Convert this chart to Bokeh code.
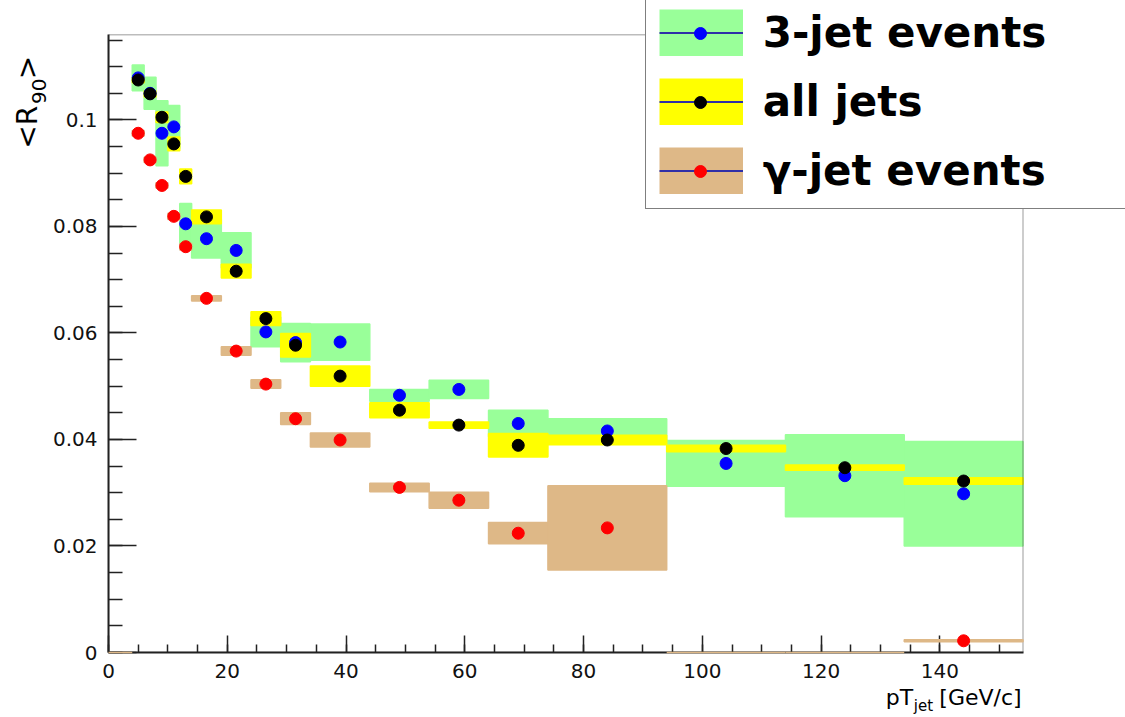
from bokeh.plotting import figure
from bokeh.models import (Range1d, FixedTicker, PrintfTickFormatter, Legend,
                          LegendItem, LinearAxis, BoxAnnotation)
from bokeh.embed import file_html
from bokeh.resources import INLINE

# ---------------- data ----------------
bin_lo = [4, 6, 8, 10, 12, 14, 19, 24, 29, 34, 44, 54, 64, 74, 94, 114, 134]
bin_hi = [6, 8, 10, 12, 14, 19, 24, 29, 34, 44, 54, 64, 74, 94, 114, 134, 154]

three_val = [0.1079, 0.1050, 0.0975, 0.0987, 0.0805, 0.0777, 0.0755, 0.0602, 0.0582,
             0.0583, 0.0483, 0.0494, 0.0430, 0.0416, 0.0355, 0.0332, 0.0298]
three_err = [0.0024, 0.0030, 0.0061, 0.0040, 0.0038, 0.0036, 0.0033, 0.0028, 0.0036,
             0.0034, 0.0011, 0.0017, 0.0025, 0.0023, 0.0043, 0.0077, 0.0098]

all_val = [0.1075, 0.1049, 0.1005, 0.0955, 0.0894, 0.0818, 0.0716, 0.0627, 0.0577,
           0.0519, 0.0455, 0.0427, 0.0389, 0.0399, 0.0383, 0.0347, 0.0322]
all_err = [0.0005, 0.0006, 0.0010, 0.0013, 0.0014, 0.0013, 0.0013, 0.0013, 0.0022,
           0.0019, 0.0014, 0.0006, 0.0022, 0.0009, 0.0006, 0.0005, 0.0006]

g_lo = [0, 4, 6, 8, 10, 12, 14, 19, 24, 29, 34, 44, 54, 64, 74, 94, 114, 134]
g_hi = [4, 6, 8, 10, 12, 14, 19, 24, 29, 34, 44, 54, 64, 74, 94, 114, 134, 154]
g_val = [0.0, 0.0975, 0.0925, 0.0877, 0.0819, 0.0762, 0.0665, 0.0566, 0.0504, 0.0439,
         0.0399, 0.0310, 0.0286, 0.0224, 0.0234, 0.0, 0.0, 0.0022]
g_err = [0.0, 0.0005, 0.0005, 0.0005, 0.0006, 0.0006, 0.0005, 0.0008, 0.0008, 0.0011,
         0.0013, 0.0008, 0.0015, 0.0020, 0.0079, 0.0, 0.0, 0.0002]

x_ticks = [0, 20, 40, 60, 80, 100, 120, 140]
y_ticks = [0, 0.02, 0.04, 0.06, 0.08, 0.1]
legend_labels = ["3-jet events", "all jets", "\u03b3-jet events"]
x_title = ["pT", "jet", "[GeV/c]"]
y_title = ["<R", "90", ">"]

# ---------------- layout / styles ----------------
GREEN, YELLOW, BEIGE = "#99ff99", "#ffff00", "#deb887"
NAN = float("nan")
W, H = 1125, 717
BL, BB = 108, 64                 # frame starts at left 108, bottom 653
XMAX, YMAX = 154, 0.116          # visible data box
DX_PX, DY_PX = 914.5, 618.7      # pixel size of the data box
FW, FH = W - BL, H - BB
XEND = XMAX * FW / DX_PX
YEND = YMAX * FH / DY_PX

p = figure(width=W, height=H, output_backend="svg", toolbar_location=None,
           x_range=Range1d(0, XEND), y_range=Range1d(0, YEND),
           min_border_left=BL, min_border_right=0, min_border_top=0,
           min_border_bottom=BB)
p.xgrid.visible = False
p.ygrid.visible = False
p.outline_line_color = None
p.background_fill_color = "white"
p.border_fill_color = "white"
p.extra_x_ranges = {"px": Range1d(BL, W)}
p.extra_y_ranges = {"py": Range1d(H - BB, 0)}

# frame of the data box
p.add_layout(BoxAnnotation(left=0, right=XMAX, bottom=0, top=YMAX, fill_color=None,
                           line_color="#222222", line_width=1.5))

def boxes(lo, hi, val, err, color, level="glyph"):
    return p.quad(left=lo, right=hi,
                  bottom=[v - e for v, e in zip(val, err)],
                  top=[v + e for v, e in zip(val, err)],
                  fill_color=color, line_color=color, line_width=1.5, level=level)

def centers(lo, hi):
    return [(a + b) / 2 for a, b in zip(lo, hi)]

q3 = boxes(bin_lo, bin_hi, three_val, three_err, GREEN)
qa = boxes(bin_lo, bin_hi, all_val, all_err, YELLOW)
qg = boxes(g_lo, g_hi, g_val, g_err, BEIGE, level="overlay")

s3 = p.scatter(centers(bin_lo, bin_hi), three_val, size=12, marker="circle",
               fill_color="#0000ff", line_color="#0000ff")
sa = p.scatter(centers(bin_lo, bin_hi), all_val, size=12, marker="circle",
               fill_color="black", line_color="black")
gx = [c for c, v in zip(centers(g_lo, g_hi), g_val) if v > 0]
gy = [v for v in g_val if v > 0]
sg = p.scatter(gx, gy, size=12, marker="circle", fill_color="#ff0000",
               line_color="#ff0000", level="overlay")

# ---------------- axes ----------------
xa = p.xaxis[0]
ya = p.yaxis[0]
xa.bounds = (0, XMAX)
ya.bounds = (0, YMAX)
xa.ticker = FixedTicker(ticks=x_ticks, minor_ticks=list(range(0, 155, 5)))
ya.ticker = FixedTicker(ticks=y_ticks, minor_ticks=[round(0.005 * i, 3) for i in range(24)])
for ax in (xa, ya):
    ax.formatter = PrintfTickFormatter(format="%g")
    ax.major_tick_out = 0
    ax.minor_tick_out = 0
    ax.axis_line_color = "#222222"
    ax.axis_line_width = 2
    ax.major_tick_line_color = "#222222"
    ax.minor_tick_line_color = "#222222"
    ax.major_tick_line_width = 1.5
    ax.minor_tick_line_width = 1.5
    ax.major_label_text_font = "DejaVu Sans"
    ax.major_label_text_font_size = "20px"
    ax.major_label_text_color = "#111111"
xa.major_tick_in = 17
xa.minor_tick_in = 8
xa.major_label_standoff = 11
ya.major_tick_in = 28
ya.minor_tick_in = 14
ya.major_label_standoff = 11

# axis titles as label-only axes (pixel ranges)
def title_axis(side, positions, texts, size, standoff):
    if side == "below":
        ax = LinearAxis(x_range_name="px")
    else:
        ax = LinearAxis(y_range_name="py")
        ax.major_label_orientation = "parallel"
    ax.ticker = FixedTicker(ticks=positions, minor_ticks=[])
    ax.major_label_overrides = {k: t for k, t in zip(positions, texts)}
    ax.axis_line_color = None
    ax.major_tick_line_color = None
    ax.minor_tick_line_color = None
    ax.major_tick_out = 0
    ax.major_tick_in = 0
    ax.major_label_standoff = standoff
    ax.major_label_text_font = "DejaVu Sans"
    ax.major_label_text_font_size = size
    ax.major_label_text_color = "black"
    p.add_layout(ax, side)

title_axis("below", [899, 980], [x_title[0], x_title[2]], "22px", 4)
title_axis("below", [923], [x_title[1]], "15px", -16)
title_axis("left", [91], [y_title[1]], "20px", 3)
title_axis("left", [127, 67], [y_title[0], y_title[2]], "28px", -15)

# ---------------- legend ----------------
def swatch(color):
    return p.line([NAN, NAN], [NAN, NAN], line_color=color, line_width=47,
                  line_cap="butt")

def leg_line():
    return p.line([NAN, NAN], [NAN, NAN], line_color="#2f2fa8", line_width=2)

LEG_LOC = (536.7, 443.5)
common = dict(location=LEG_LOC, glyph_width=84, label_height=49, label_width=420,
              spacing=20, padding=13, margin=0, label_standoff=20,
              label_text_font="DejaVu Sans", label_text_font_style="bold",
              label_text_font_size="42px", border_line_color="black",
              border_line_width=1.5, background_fill_color="white")

items = [LegendItem(label=legend_labels[0], renderers=[swatch(GREEN), leg_line()]),
         LegendItem(label=legend_labels[1], renderers=[swatch(YELLOW), leg_line()]),
         LegendItem(label=legend_labels[2], renderers=[swatch(BEIGE), leg_line()])]
legend = Legend(items=items, glyph_height=47, label_text_color="black",
                background_fill_alpha=1.0, **common)
p.add_layout(legend)

# marker layer of the legend (smaller glyph box so the markers keep their size)
mark_items = [LegendItem(label=" ", renderers=[s3]),
              LegendItem(label=" ", renderers=[sa]),
              LegendItem(label=" ", renderers=[sg])]
legend_marks = Legend(items=mark_items, glyph_height=30, label_text_alpha=0.0,
                      border_line_alpha=0.0, background_fill_alpha=0.0, **common)
p.add_layout(legend_marks)

open("out.html", "w").write(file_html(p, INLINE))
